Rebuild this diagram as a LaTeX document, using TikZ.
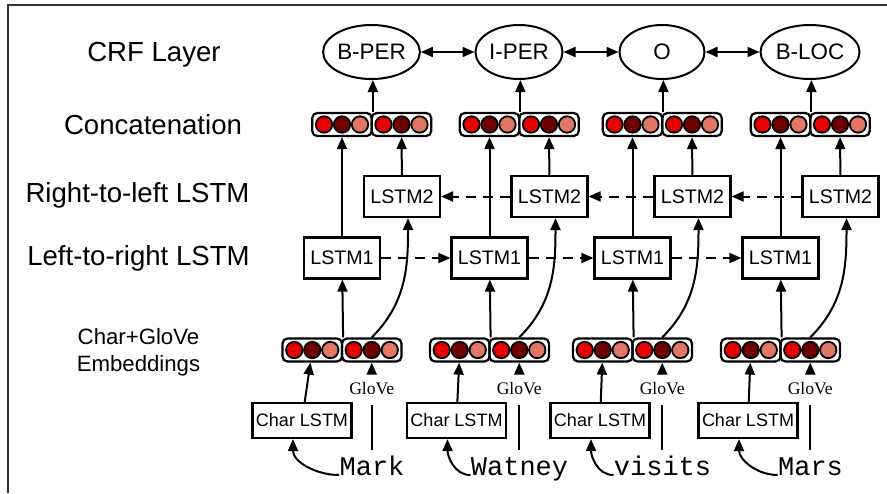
\documentclass[tikz,border=0pt]{standalone}
\usepackage{fontspec}
\setmainfont{Liberation Sans}
\newfontfamily\glovefont{Liberation Serif}
\newfontfamily\wordfont{Liberation Mono}
\usepackage{xcolor}
\usepackage{tikz}
\usetikzlibrary{arrows.meta, positioning, shapes.geometric, calc}

\definecolor{cellred}{RGB}{232,0,0}
\definecolor{celldark}{RGB}{112,0,0}
\definecolor{cellpink}{RGB}{226,118,100}

% half of a word vector: rounded box with three cells
\newcommand{\halfvec}[3]{%
  \node[half] (#1) at (#2,#3) {};
  \foreach \dx/\cc in {-18/cellred,0/celldark,18/cellpink}
    \node[cell, fill=\cc] at ($(#1)+(\dx,0)$) {};
}

\begin{document}
\begin{tikzpicture}[x=0.5pt, y=-0.5pt,
  crf/.style={draw, ellipse, line width=1pt, minimum height=27pt, inner sep=0pt, font=\fontsize{11.2}{13}\selectfont},
  lstm/.style={draw, line width=1.1pt, minimum width=38pt, minimum height=20.5pt, inner sep=0pt, font=\fontsize{9.8}{11}\selectfont},
  charbox/.style={draw, line width=1.1pt, minimum width=49.5pt, minimum height=17.5pt, inner sep=0pt, font=\fontsize{9}{11}\selectfont},
  half/.style={draw, line width=1.1pt, rounded corners=2.5pt, minimum width=29.75pt, minimum height=11.5pt, inner sep=0pt},
  cell/.style={draw, circle, line width=0.9pt, minimum size=8.2pt, inner sep=0pt},
  glove/.style={inner sep=0pt, minimum height=16pt, font=\glovefont\fontsize{8.8}{10}\selectfont},
  word/.style={inner sep=0pt, font=\wordfont\fontsize{13.5}{15}\selectfont},
  layer/.style={font=\fontsize{13.8}{16}\selectfont},
  edge/.style={-{Triangle[length=6pt,width=5pt]}, line width=1pt},
  both/.style={edge, {Triangle[length=6pt,width=5pt]}-{Triangle[length=6pt,width=5pt]}},
  rec/.style={edge, dash pattern=on 5pt off 3.5pt}
]
\useasboundingbox (0,0) rectangle (887,493);
\draw[line width=0.6pt, black!80] (8,493) -- (8,5) -- (887,5);

% layer names
\node[layer] (lblcrf) at (154,55) {CRF Layer};
\node[layer] (lblcat) at (153,125) {Concatenation};
\node[layer] (lblrl) at (137.5,195) {Right-to-left LSTM};
\node[layer] (lbllr) at (138.5,258) {Left-to-right LSTM};
\node[font=\fontsize{11.1}{13.5}\selectfont, align=center] (lblemb) at (138.5,352) {Char+GloVe\\Embeddings};

% one column per word
\foreach \b/\chx/\lab/\cw/\token [count=\i] in {342/302/B-PER/44.5pt/Mark, 489.5/456.5/I-PER/43.5pt/Watney, 632.5/600/O/42.5pt/visits, 780.5/748/B-LOC/49.5pt/Mars} {
  \node[crf, minimum width=\cw] (crf\i) at (\b+29.5,52) {\lab};
  \halfvec{cat\i-l}{\b}{124.5}
  \halfvec{cat\i-r}{\b+59.5}{124.5}
  \node[lstm] (rt\i) at (\b+60,196.5) {LSTM2};
  \node[lstm] (lf\i) at (\b,258) {LSTM1};
  \halfvec{emb\i-l}{\b-29.75}{350}
  \halfvec{emb\i-r}{\b+29.75}{350}
  \node[glove] (glove\i) at (\b+29.75,389) {GloVe};
  \node[charbox] (char\i) at (\chx,420.5) {Char LSTM};
  \node[word, anchor=base] (word\i) at (\b+30,475) {\token};
  \coordinate (gb\i) at (\b+29.75,450);

  \draw[edge] (cat\i-l.north east) -- (cat\i-l.north east |- crf\i.south);
  \draw[edge] (lf\i) -- (cat\i-l);
  \draw[edge] (rt\i) -- (cat\i-r);
  \draw[edge] (emb\i-l.north east) -- (lf\i);
  \draw[edge] (emb\i-r.north) to[out=45,in=-90] ([xshift=3pt]rt\i.south);
  \draw[edge] (char\i) -- (emb\i-l);
  \draw[line width=1pt] (gb\i) -- (glove\i);
  \draw[edge] (glove\i) -- (emb\i-r);
  \draw[edge] (word\i.base west) to[out=180,in=-90] ([xshift=-4.5pt]char\i.south);
}

% recurrent links and CRF transitions
\foreach \i/\j in {1/2,2/3,3/4} {
  \draw[rec] (lf\i) -- (lf\j);
  \draw[rec] (rt\j) -- (rt\i);
  \draw[both] (crf\i) -- (crf\j);
}
\end{tikzpicture}
\end{document}
